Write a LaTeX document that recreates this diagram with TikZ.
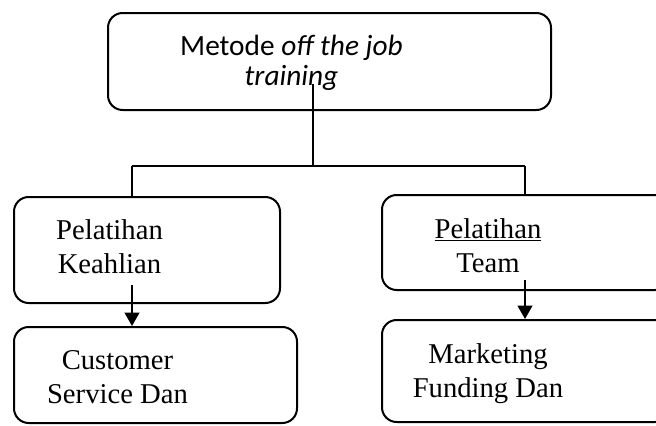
\documentclass[tikz,border=0pt]{standalone}
\usepackage{fontspec}
\setmainfont{Liberation Serif}
\newfontfamily\calfont{Carlito}
\usetikzlibrary{arrows.meta}

\begin{document}
\begin{tikzpicture}[x=0.75pt, y=-0.75pt, line width=1.5pt]
    \tikzstyle{box}=[draw, rectangle, rounded corners=11pt, inner sep=0pt]
    \tikzstyle{txt}=[align=center, anchor=base, inner sep=0pt, font=\fontsize{21.5pt}{25.5pt}\selectfont]
    \tikzstyle{arr}=[-{Triangle[width=11pt, length=10pt]}]
    \path[use as bounding box, clip] (0,0) rectangle (656,425);
    % boxes
    \node [box, minimum width=332.25pt, minimum height=72.75pt] (metode) at (329.5,61.5) {};
    \node [box, minimum width=199.5pt, minimum height=79.5pt] (keahlian) at (147,250) {};
    \node [box, minimum width=212.25pt, minimum height=72pt] (cs) at (155.5,375) {};
    \node [box, minimum width=216pt, minimum height=71.25pt] (team) at (526,242.5) {};
    \node [box, minimum width=216pt, minimum height=76.5pt] (mf) at (526,371) {};
    % texts (anchored at the baseline of the last line)
    \node [txt, font=\calfont\fontsize{22pt}{22.5pt}\selectfont] (metode-t) at (291.5,85) {Metode \textit{off the job}\\\textit{training}};
    \node [txt] (keahlian-t) at (109.5,273) {Pelatihan\\Keahlian};
    \node [txt] (cs-t) at (117.5,403) {Customer\\Service Dan};
    \node [txt] (team-t) at (488,272) {\underline{Pelatihan}\\Team};
    \node [txt] (mf-t) at (488,397) {Marketing\\Funding Dan};
    % connectors
    \coordinate (stem) at (313,84);
    \coordinate (split) at (313,166);
    \coordinate (ljoin) at (132,166);
    \coordinate (rjoin) at (525,166);
    \coordinate (larr) at (132,285);
    \coordinate (rarr) at (525,280);
    \draw (stem) -- (split);
    \draw (ljoin) -- (rjoin);
    \draw (ljoin) -- (ljoin |- keahlian.north);
    \draw (rjoin) -- (rjoin |- team.north);
    \draw [arr] (larr) -- (larr |- cs.north);
    \draw [arr] (rarr) -- (rarr |- mf.north);
\end{tikzpicture}
\end{document}
